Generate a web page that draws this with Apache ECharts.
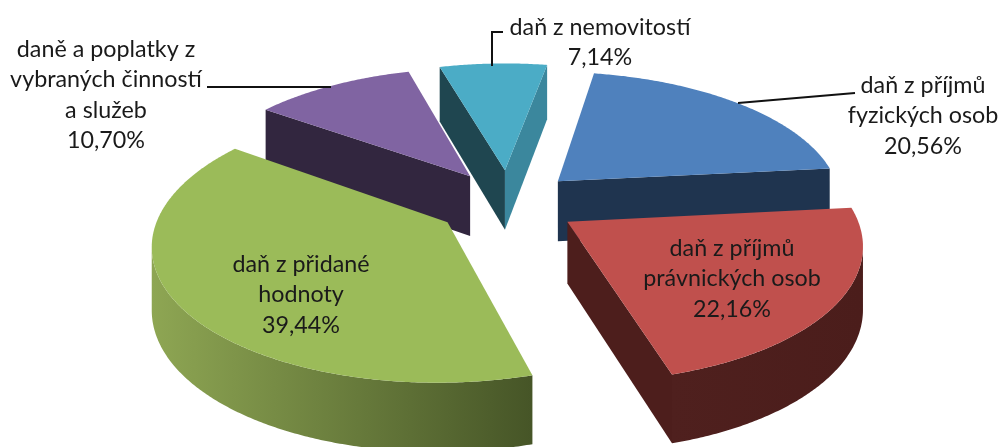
<!DOCTYPE html>
<html>

<head>
    <meta charset="utf-8">
    <title></title>
    <script src="https://cdn.jsdelivr.net/npm/echarts@6/dist/echarts.min.js"></script>
    <style>
        html, body { margin: 0; background: #fff; }
    </style>
</head>

<body>
    <div id="container" style="width: 999px;height:447px;"></div>
</body>
<script type="text/javascript">
    var categories = ['daň z příjmů\nfyzických osob', 'daň z příjmů\nprávnických osob', 'daň z přidané\nhodnoty', 'daně a poplatky z\nvybraných činností\na služeb', 'daň z nemovitostí'];
    var shares = [20.56, 22.16, 39.44, 10.70, 7.14];

    var topColors = ['#4f81bd', '#c0504d', '#9bbb59', '#8064a2', '#4bacc6'];
    var startWall = ['#1f344f', '#4d1e1c', '#5d7035', '#32263f', '#1f4650'];
    var endWall = ['#1f344f', '#4d1e1c', '#46552a', '#32263f', '#3b879d'];
    var arcWall = [['#1f344f', '#1f344f'], ['#4f201e', '#4b1d1b'], ['#8ea653', '#465527'], ['#32263f', '#32263f'], ['#3b879d', '#3b879d']];

    // label block centre x, first line y, and the leader line if there is one
    var labelSpots = [
        { x: 923, y: 85, leader: [[738, 103], [855, 93]] },
        { x: 732, y: 248 },
        { x: 301, y: 264 },
        { x: 106, y: 49, leader: [[331, 87], [207, 87]] },
        { x: 600, y: 27, leader: [[492, 66], [492, 32], [503, 32]] }
    ];
    // small shift of single slices, the explosion is not quite even in the original
    var nudge = [[0, 0], [0, 0], [0, 0], [0.01, 0.005], [0.005, 0.01]];

    var view = { cx: 507, cy: 203, a: 131, b: 285, k: 0.145, explode: 0.25, depth: 61, start: 10 };

    function project(X, Z) {
        var s = 1 / (1 + view.k * Z);
        return [view.cx + view.b * X * s, view.cy - view.a * Z * s, s];
    }

    function drop(X, Z) {
        var p = project(X, Z);
        return [p[0], p[1] + view.depth * Math.pow(p[2], 0.7)];
    }

    function rad(d) {
        return d * Math.PI / 180;
    }

    var total = shares.reduce(function(x, y) { return x + y; }, 0);

    function sliceAngles(i) {
        var before = 0;
        for (var n = 0; n < i; n++) before += shares[n];
        return [view.start + before / total * 360, view.start + (before + shares[i]) / total * 360];
    }

    function apexOf(i) {
        var ang = sliceAngles(i);
        var m = rad((ang[0] + ang[1]) / 2);
        return [view.explode * Math.sin(m) + nudge[i][0], view.explode * Math.cos(m) + nudge[i][1]];
    }

    function faceShows(apex, edge, inner) {
        var v = [edge[0] - apex[0], edge[1] - apex[1]];
        var n = [-v[1], v[0]];
        if (n[0] * (inner[0] - apex[0]) + n[1] * (inner[1] - apex[1]) > 0) n = [-n[0], -n[1]];
        return n[1] > 0;
    }

    function renderSlice(params, api) {
        var i = api.value(0);
        var ang = sliceAngles(i);
        var ap = apexOf(i);
        var rim = [];
        for (var d = ang[0]; d < ang[1]; d += 0.5) rim.push([ap[0] + Math.sin(rad(d)), ap[1] + Math.cos(rad(d))]);
        rim.push([ap[0] + Math.sin(rad(ang[1])), ap[1] + Math.cos(rad(ang[1]))]);

        var pTop = [project(ap[0], ap[1])].concat(rim.map(function(r) { return project(r[0], r[1]); }));
        var apexP = pTop[0];
        var midP = pTop[1 + Math.floor(rim.length / 2)];
        var inner = [(apexP[0] + midP[0]) / 2, (apexP[1] + midP[1]) / 2];
        var order = Math.round((1.5 - ap[1]) * 100);
        var children = [];

        function face(edge, color) {
            var p = project(edge[0], edge[1]);
            if (!faceShows(apexP, p, inner)) return;
            children.push({
                type: 'polygon', z2: order,
                shape: { points: [apexP.slice(0, 2), p.slice(0, 2), drop(edge[0], edge[1]), drop(ap[0], ap[1])] },
                style: { fill: color }
            });
        }
        face(rim[0], startWall[i]);
        face(rim[rim.length - 1], endWall[i]);

        var upper = [], lower = [];
        for (var n = 0; n < rim.length - 1; n++) {
            var p0 = project(rim[n][0], rim[n][1]);
            var p1 = project(rim[n + 1][0], rim[n + 1][1]);
            if (p1[0] < p0[0]) {
                if (!upper.length) {
                    upper.push(p0.slice(0, 2));
                    lower.push(drop(rim[n][0], rim[n][1]));
                }
                upper.push(p1.slice(0, 2));
                lower.push(drop(rim[n + 1][0], rim[n + 1][1]));
            }
        }
        if (upper.length) {
            children.push({
                type: 'polygon', z2: order + 1,
                shape: { points: upper.concat(lower.reverse()) },
                style: {
                    fill: new echarts.graphic.LinearGradient(0, 0, 1, 0, [
                        { offset: 0, color: arcWall[i][0] },
                        { offset: 1, color: arcWall[i][1] }
                    ])
                }
            });
        }

        children.push({
            type: 'polygon', z2: order + 2,
            shape: { points: pTop.map(function(p) { return p.slice(0, 2); }) },
            style: { fill: topColors[i] }
        });

        var spot = labelSpots[i];
        if (spot.leader) {
            children.push({
                type: 'polyline', z2: 1000,
                shape: { points: spot.leader },
                style: { stroke: '#111', lineWidth: 2, fill: null }
            });
        }
        var lines = categories[i].split('\n');
        lines.push(shares[i].toFixed(2).replace('.', ',') + '%');
        lines.forEach(function(txt, row) {
            children.push({
                type: 'text', z2: 1001,
                style: {
                    text: txt, x: spot.x, y: spot.y + row * 30.5,
                    fill: '#1a1a1a', font: '23.3px Lato',
                    align: 'center', verticalAlign: 'middle'
                }
            });
        });

        return { type: 'group', children: children };
    }

    var dom = document.getElementById("container");
    var myChart = echarts.init(dom);
    var drawOrder = shares.map(function(v, i) { return i; }).sort(function(p, q) {
        return apexOf(q)[1] - apexOf(p)[1];
    });
    var option = {
        animation: false,
        backgroundColor: '#fff',
        series: [{
            type: 'custom',
            coordinateSystem: 'none',
            silent: true,
            renderItem: renderSlice,
            data: drawOrder.map(function(i) { return { value: [i, shares[i]], name: categories[i] }; })
        }]
    };
    myChart.setOption(option);
</script>

</html>
